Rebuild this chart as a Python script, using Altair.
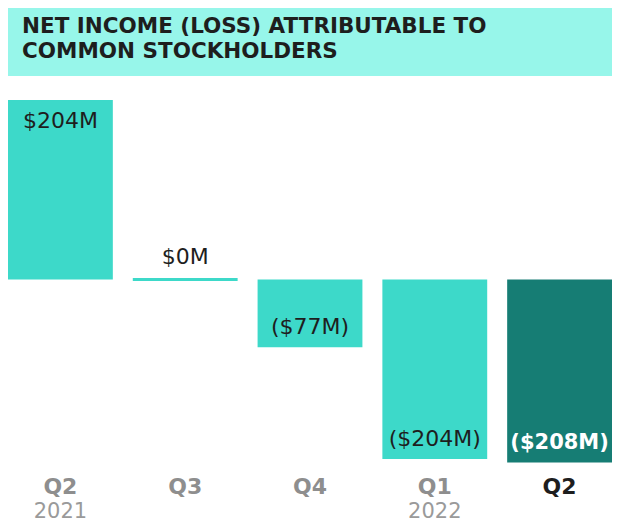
import altair as alt
import pandas as pd

# ---- data ----
periods = ["Q2 2021", "Q3 2021", "Q4 2021", "Q1 2022", "Q2 2022"]
quarter_labels = ["Q2", "Q3", "Q4", "Q1", "Q2"]
year_labels = ["2021", "", "", "2022", ""]
net_income = [204, 0, -77, -204, -208]          # $M
value_labels = ["$204M", "$0M", "($77M)", "($204M)", "($208M)"]
kind = ["past", "past", "past", "past", "latest"]
title_lines = ["NET INCOME (LOSS) ATTRIBUTABLE TO", "COMMON STOCKHOLDERS"]

LIGHT = "#3DD9C9"
DARK = "#167D74"
TITLE_BG = "#97F6EA"
TXT = "#1E1E1E"
GREY = "#8E8E8E"
FONT = "DejaVu Sans"

df = pd.DataFrame({
    "period": periods,
    "quarter": quarter_labels,
    "year": year_labels,
    "value": net_income,
    "label": value_labels,
    "kind": kind,
})

x_enc = alt.X("period:N", sort=periods,
              scale=alt.Scale(paddingInner=0.16, paddingOuter=0), axis=None)
y_enc = alt.Y("value:Q", scale=alt.Scale(domain=[-208, 204], nice=False, zero=True), axis=None)
color_enc = alt.Color("kind:N", scale=alt.Scale(domain=["past", "latest"], range=[LIGHT, DARK]),
                      legend=None)

base = alt.Chart(df)

bars = base.mark_bar().encode(x=x_enc, y=y_enc, y2=alt.datum(0), color=color_enc)

zero_bar = base.transform_filter("datum.value == 0").mark_bar(
    stroke=LIGHT, strokeWidth=3, fill=LIGHT
).encode(x=x_enc, y=y_enc, y2=alt.datum(0))

pos_lbl = base.transform_filter("datum.value > 0").mark_text(
    font=FONT, fontSize=22, color=TXT, baseline="middle", dy=21
).encode(x=x_enc, y=y_enc, text="label:N")

zero_lbl = base.transform_filter("datum.value == 0").mark_text(
    font=FONT, fontSize=22, color=TXT, baseline="middle", dy=-23
).encode(x=x_enc, y=y_enc, text="label:N")

neg_lbl = base.transform_filter("datum.value < 0 && datum.kind == 'past'").mark_text(
    font=FONT, fontSize=22, color=TXT, baseline="middle", dy=-20
).encode(x=x_enc, y=y_enc, text="label:N")

latest_lbl = base.transform_filter("datum.value < 0 && datum.kind == 'latest'").mark_text(
    font=FONT, fontSize=21, fontWeight="bold", color="white", baseline="middle", dy=-20
).encode(x=x_enc, y=y_enc, text="label:N")

q_past = base.transform_filter("datum.kind == 'past'").mark_text(
    font=FONT, fontSize=22, fontWeight="bold", color=GREY, baseline="middle"
).encode(x=x_enc, y=alt.value(387), text="quarter:N")

q_latest = base.transform_filter("datum.kind == 'latest'").mark_text(
    font=FONT, fontSize=22, fontWeight="bold", color=TXT, baseline="middle"
).encode(x=x_enc, y=alt.value(387), text="quarter:N")

years = base.transform_filter("datum.year != ''").mark_text(
    font=FONT, fontSize=21, color="#9A9A9A", baseline="middle"
).encode(x=x_enc, y=alt.value(412), text="year:N")

title_df = pd.DataFrame({"t": [title_lines[0]]})
title_box = alt.Chart(title_df).mark_rect(color=TITLE_BG).encode(
    x=alt.value(0), x2=alt.value(605), y=alt.value(-92), y2=alt.value(-24)
)
t1 = alt.Chart(pd.DataFrame({"t": [title_lines[0]]})).mark_text(
    font=FONT, fontSize=21.5, fontWeight="bold", color=TXT, align="left", baseline="middle"
).encode(x=alt.value(14), y=alt.value(-73), text="t:N")
t2 = alt.Chart(pd.DataFrame({"t": [title_lines[1]]})).mark_text(
    font=FONT, fontSize=21.5, fontWeight="bold", color=TXT, align="left", baseline="middle"
).encode(x=alt.value(14), y=alt.value(-48), text="t:N")

chart = alt.layer(
    title_box, t1, t2, bars, zero_bar, pos_lbl, zero_lbl, neg_lbl, latest_lbl,
    q_past, q_latest, years
).properties(
    width=604, height=362.6,
    padding={"left": 0, "top": 92, "right": 0, "bottom": 66},
    autosize="none",
    background="white",
).configure_view(stroke=None)

chart.save("out.html", embed_options={"renderer": "svg", "actions": False})
